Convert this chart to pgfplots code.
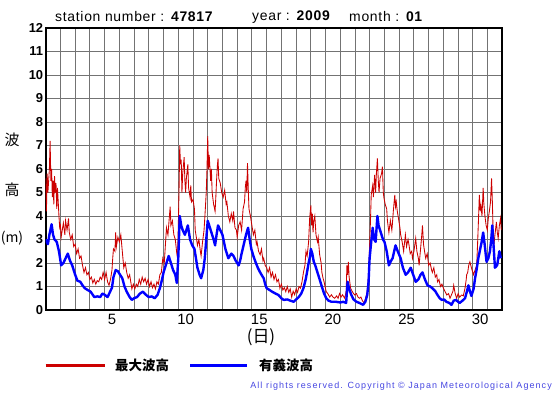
\documentclass[border=0pt]{standalone}
\usepackage{fontspec}
\setmainfont{Liberation Sans}
\newfontfamily\spaced[LetterSpace=5]{Liberation Sans}
\newfontfamily\cspaced[LetterSpace=12]{Liberation Sans}
\newfontfamily\jp{Noto Sans CJK JP}
\usepackage{pgfplots}
\pgfplotsset{compat=1.18}
\definecolor{wred}{RGB}{204,0,0}
\definecolor{wblue}{RGB}{0,0,255}
\definecolor{copy}{RGB}{70,70,225}
\begin{document}
\begin{tikzpicture}[x=1bp,y=1bp]
\useasboundingbox (0,0) rectangle (555,395);
\begin{axis}[
  at={(45.7bp,85bp)}, anchor=south west,
  scale only axis, width=456.6bp, height=282bp,
  xmin=0, xmax=31, ymin=0, ymax=12,
  xtick={4.5,9.5,14.5,19.5,24.5,29.5},
  xticklabels={5,10,15,20,25,30},
  minor xtick={1,...,30},
  ytick={0,...,12},
  xmajorgrids=false, xminorgrids=true, ymajorgrids=true,
  major grid style={line width=0.9bp, color=black!55},
  minor grid style={line width=0.9bp, color=black!55},
  axis line style={line width=1.8bp},
  major tick length=0pt, minor tick length=0pt,
  /pgf/number format/assume math mode=true,
  xticklabel style={font=\fontsize{15}{15}\selectfont, yshift=-1bp},
  yticklabel style={font=\bfseries\fontsize{13}{13}\selectfont, xshift=1bp},
  clip=true,
]
\addplot[wred, line width=0.85bp] coordinates {
(0,5.6) (0.05,4.2) (0.1,5.8) (0.15,5.0) (0.2,5.5) (0.25,6.0) (0.3,7.2) (0.35,5.5) (0.4,6.0) (0.45,4.8) (0.5,5.5) (0.55,4.5) (0.6,5.7) (0.65,5.0) (0.7,5.4) (0.75,4.3) (0.8,5.2) (0.85,4.6) (0.9,4.0) (0.95,3.5) (1.0,3.6) (1.05,3.1) (1.1,3.3) (1.2,3.7) (1.3,3.2) (1.35,3.8) (1.45,3.4) (1.55,3.9) (1.6,3.3) (1.7,3.0) (1.8,3.2) (1.9,2.7) (2.0,2.8) (2.1,2.4) (2.2,2.6) (2.3,2.2) (2.4,2.3) (2.5,1.9) (2.6,1.6) (2.7,1.8) (2.8,1.5) (2.9,1.6) (3.0,1.3) (3.1,1.4) (3.2,1.15) (3.3,1.3) (3.4,1.1) (3.5,1.25) (3.6,1.2) (3.7,1.4) (3.8,1.3) (3.9,1.6) (4.0,1.3) (4.1,1.6) (4.2,1.2) (4.3,1.05) (4.4,1.3) (4.5,1.7) (4.55,2.2) (4.6,2.6) (4.7,2.5) (4.75,3.3) (4.8,2.7) (4.9,3.1) (5.0,2.9) (5.1,3.2) (5.2,2.5) (5.3,1.8) (5.4,2.0) (5.5,1.6) (5.6,1.35) (5.7,1.5) (5.8,1.1) (5.85,0.9) (5.95,1.1) (6.05,0.9) (6.15,1.1) (6.25,1.0) (6.35,1.3) (6.45,1.1) (6.55,1.4) (6.65,1.2) (6.75,1.35) (6.85,1.1) (6.95,1.3) (7.05,1.0) (7.15,1.2) (7.25,0.95) (7.35,1.1) (7.45,0.9) (7.55,1.2) (7.65,1.1) (7.75,1.5) (7.85,1.6) (7.95,2.2) (8.05,2.0) (8.15,3.0) (8.2,3.5) (8.3,3.2) (8.4,4.0) (8.45,4.4) (8.5,3.6) (8.6,3.8) (8.7,3.2) (8.8,3.0) (8.9,2.4) (8.95,2.2) (9.0,3.5) (9.05,5.0) (9.1,7.0) (9.15,6.2) (9.2,6.4) (9.25,5.0) (9.3,5.8) (9.4,6.5) (9.45,5.5) (9.5,5.0) (9.55,5.6) (9.65,6.2) (9.7,5.2) (9.8,4.8) (9.85,5.3) (9.9,4.6) (10.0,4.7) (10.1,4.3) (10.15,3.4) (10.25,3.0) (10.3,2.75) (10.4,3.0) (10.5,2.5) (10.55,2.3) (10.65,2.9) (10.75,3.4) (10.8,3.9) (10.9,5.0) (10.95,6.0) (11.0,7.4) (11.05,6.0) (11.1,6.6) (11.2,5.5) (11.25,6.0) (11.3,5.0) (11.4,4.5) (11.5,4.2) (11.55,4.8) (11.6,5.5) (11.65,6.1) (11.7,6.45) (11.75,5.6) (11.85,5.4) (11.95,5.0) (12.05,4.8) (12.15,5.1) (12.25,4.5) (12.3,4.6) (12.4,4.0) (12.5,3.75) (12.6,4.1) (12.7,3.8) (12.75,4.2) (12.85,3.5) (12.95,3.4) (13.0,3.1) (13.1,3.6) (13.2,3.75) (13.3,3.4) (13.4,4.3) (13.5,4.6) (13.55,5.2) (13.6,5.5) (13.65,5.0) (13.7,6.25) (13.75,5.2) (13.8,4.3) (13.9,4.0) (13.96,3.75) (14.05,3.4) (14.1,3.2) (14.2,3.4) (14.3,2.8) (14.35,2.9) (14.45,2.5) (14.56,2.35) (14.65,2.6) (14.75,2.1) (14.8,2.2) (14.9,1.9) (15.0,1.8) (15.1,1.6) (15.2,1.8) (15.3,1.4) (15.4,1.6) (15.5,1.3) (15.6,1.5) (15.7,1.2) (15.8,1.3) (15.9,0.93) (16.0,1.1) (16.1,0.85) (16.2,0.95) (16.3,0.78) (16.4,1.0) (16.5,0.75) (16.6,0.9) (16.7,0.55) (16.8,0.8) (16.9,0.65) (17.0,0.9) (17.1,0.75) (17.2,1.0) (17.3,0.93) (17.4,1.2) (17.5,1.6) (17.6,1.9) (17.67,2.5) (17.75,2.3) (17.85,2.9) (17.92,3.9) (18.0,4.45) (18.05,3.6) (18.1,4.1) (18.15,3.3) (18.2,3.8) (18.27,4.0) (18.35,3.2) (18.45,2.9) (18.5,3.1) (18.6,2.35) (18.7,2.0) (18.75,1.6) (18.83,1.35) (18.9,1.2) (19.0,0.9) (19.05,0.78) (19.15,0.7) (19.28,0.55) (19.4,0.65) (19.5,0.55) (19.62,0.5) (19.75,0.6) (19.85,0.5) (19.95,0.7) (20.05,0.55) (20.15,0.65) (20.3,0.5) (20.4,0.8) (20.45,1.9) (20.5,1.5) (20.55,2.05) (20.6,1.4) (20.7,0.93) (20.8,0.8) (20.9,0.7) (20.98,0.64) (21.1,0.7) (21.2,0.55) (21.3,0.5) (21.4,0.55) (21.5,0.4) (21.6,0.3) (21.7,0.45) (21.83,0.78) (21.92,1.5) (21.99,2.75) (22.05,3.8) (22.1,4.9) (22.2,5.3) (22.25,4.8) (22.33,5.75) (22.4,5.0) (22.45,5.8) (22.52,6.45) (22.58,5.5) (22.63,5.0) (22.7,5.6) (22.8,5.8) (22.86,6.1) (22.92,5.0) (22.97,4.75) (23.05,4.5) (23.15,4.3) (23.2,3.8) (23.3,3.3) (23.4,3.8) (23.5,3.4) (23.53,3.6) (23.6,4.2) (23.7,4.9) (23.75,4.4) (23.8,4.6) (23.87,4.2) (23.95,3.9) (24.05,3.5) (24.1,3.2) (24.2,2.9) (24.3,2.5) (24.35,2.8) (24.42,3.2) (24.5,2.7) (24.6,3.0) (24.67,2.75) (24.75,2.4) (24.85,2.5) (24.9,2.2) (25.0,2.5) (25.12,3.05) (25.2,2.5) (25.3,2.2) (25.35,1.9) (25.45,2.6) (25.52,3.1) (25.58,3.6) (25.65,2.8) (25.72,2.5) (25.8,2.2) (25.9,2.4) (26.0,1.9) (26.1,2.0) (26.2,1.7) (26.25,1.6) (26.35,1.8) (26.45,1.4) (26.55,1.5) (26.6,1.2) (26.7,1.3) (26.8,1.0) (26.9,1.1) (27.0,0.93) (27.1,0.8) (27.23,0.64) (27.35,0.7) (27.45,0.5) (27.55,0.65) (27.65,0.8) (27.7,1.05) (27.8,0.7) (27.9,0.5) (28.0,0.7) (28.1,0.55) (28.24,0.64) (28.35,0.6) (28.47,0.93) (28.55,1.3) (28.58,1.5) (28.65,1.6) (28.72,1.9) (28.8,2.05) (28.9,1.8) (29.0,1.6) (29.04,1.5) (29.15,1.7) (29.26,1.9) (29.32,2.8) (29.38,3.8) (29.44,4.9) (29.5,4.2) (29.55,4.45) (29.62,4.0) (29.7,5.2) (29.75,4.5) (29.82,4.0) (29.9,3.6) (29.98,3.4) (30.05,3.9) (30.12,4.2) (30.2,4.6) (30.27,5.6) (30.33,4.5) (30.38,3.2) (30.43,2.75) (30.5,3.2) (30.6,3.75) (30.66,3.3) (30.72,3.05) (30.8,3.6) (30.88,3.9) (30.93,3.4)
};
\addplot[wblue, line width=2.4bp, line join=round] coordinates {
(0,3.0) (0.15,2.8) (0.25,3.2) (0.4,3.65) (0.5,3.2) (0.6,3.0) (0.75,2.9) (0.9,2.5) (1.05,1.9) (1.2,2.0) (1.35,2.2) (1.5,2.4) (1.65,2.1) (1.8,1.9) (2.0,1.5) (2.15,1.25) (2.35,1.2) (2.5,1.05) (2.65,0.93) (2.85,0.85) (3.05,0.78) (3.3,0.55) (3.5,0.58) (3.7,0.55) (3.85,0.7) (4.0,0.65) (4.2,0.55) (4.35,0.75) (4.5,0.95) (4.6,1.4) (4.75,1.7) (4.9,1.65) (5.05,1.5) (5.2,1.35) (5.35,1.0) (5.5,0.78) (5.7,0.55) (5.85,0.43) (6.0,0.5) (6.2,0.55) (6.4,0.7) (6.6,0.78) (6.8,0.65) (7.0,0.55) (7.2,0.58) (7.4,0.5) (7.6,0.65) (7.75,0.93) (7.9,1.3) (8.0,1.6) (8.2,2.0) (8.35,2.3) (8.5,2.0) (8.65,1.7) (8.8,1.5) (8.9,1.15) (9.0,2.2) (9.1,4.0) (9.2,3.6) (9.3,3.4) (9.45,3.2) (9.65,3.6) (9.8,3.0) (9.95,2.75) (10.1,2.6) (10.2,2.2) (10.3,1.8) (10.45,1.5) (10.55,1.35) (10.7,1.7) (10.8,2.2) (10.9,3.0) (11.0,3.8) (11.15,3.5) (11.25,3.3) (11.4,3.0) (11.5,2.75) (11.6,3.2) (11.7,3.6) (11.85,3.4) (12.0,3.2) (12.2,2.6) (12.4,2.2) (12.6,2.4) (12.75,2.3) (12.9,2.1) (13.1,1.9) (13.2,2.1) (13.3,2.4) (13.45,2.8) (13.6,3.2) (13.74,3.5) (13.85,3.0) (13.96,2.6) (14.1,2.3) (14.24,2.05) (14.4,1.8) (14.56,1.6) (14.7,1.45) (14.8,1.35) (14.9,1.1) (15.0,0.93) (15.2,0.85) (15.37,0.78) (15.6,0.7) (15.8,0.64) (16.0,0.5) (16.16,0.43) (16.4,0.45) (16.6,0.4) (16.84,0.35) (17.0,0.45) (17.18,0.55) (17.35,0.7) (17.5,0.93) (17.65,1.3) (17.74,1.6) (17.85,2.0) (17.95,2.3) (18.0,2.6) (18.1,2.4) (18.2,2.05) (18.3,1.9) (18.45,1.6) (18.6,1.3) (18.72,1.05) (18.9,0.7) (19.05,0.5) (19.2,0.4) (19.4,0.35) (19.7,0.35) (20.0,0.32) (20.2,0.35) (20.4,0.3) (20.45,0.8) (20.5,1.2) (20.6,0.9) (20.75,0.64) (20.9,0.45) (21.1,0.35) (21.3,0.3) (21.55,0.22) (21.7,0.35) (21.83,0.64) (21.92,1.2) (21.99,2.2) (22.1,2.9) (22.2,3.5) (22.3,3.0) (22.4,2.9) (22.52,4.0) (22.6,3.6) (22.75,3.3) (22.9,3.0) (23.0,2.9) (23.15,2.5) (23.3,1.9) (23.45,2.1) (23.55,2.2) (23.75,2.75) (23.9,2.5) (24.1,2.2) (24.25,1.8) (24.44,1.5) (24.6,1.6) (24.78,1.8) (24.95,1.5) (25.12,1.2) (25.3,1.3) (25.45,1.5) (25.58,1.6) (25.75,1.3) (25.92,1.05) (26.1,1.0) (26.25,0.93) (26.45,0.8) (26.6,0.64) (26.75,0.5) (26.89,0.43) (27.05,0.45) (27.2,0.35) (27.4,0.3) (27.55,0.22) (27.7,0.4) (27.85,0.43) (28.0,0.35) (28.1,0.3) (28.3,0.4) (28.47,0.5) (28.6,0.8) (28.7,1.05) (28.8,0.8) (28.9,0.6) (29.05,0.9) (29.15,1.35) (29.25,1.7) (29.37,2.2) (29.5,2.6) (29.6,2.9) (29.7,3.3) (29.8,2.8) (29.93,2.05) (30.05,2.2) (30.16,2.5) (30.25,3.0) (30.32,3.6) (30.42,2.6) (30.5,1.8) (30.65,1.9) (30.8,2.5) (30.9,2.2)
};
\end{axis}
% title
\node[anchor=west, inner sep=0] at (55,378) {\spaced\fontsize{14}{14}\selectfont station number : \textbf{47817}};
\node[anchor=west, inner sep=0] at (252,378) {\spaced\fontsize{14}{14}\selectfont year : \textbf{2009}};
\node[anchor=west, inner sep=0] at (349,378) {\spaced\fontsize{14}{14}\selectfont month : \textbf{01}};
% y label
\node[inner sep=0] at (12,255) {\jp\fontsize{15}{15}\selectfont 波};
\node[inner sep=0] at (12,205) {\jp\fontsize{15}{15}\selectfont 高};
\node[inner sep=0] at (12,157) {\jp\fontsize{14}{14}\selectfont (m)};
% x label
\node[inner sep=0] at (261,58) {\jp\fontsize{17}{17}\selectfont (日)};
% legend
\draw[wred, line width=3bp] (45.7,30) -- (105,30);
\node[anchor=west, inner sep=0] at (115,30) {\jp\bfseries\fontsize{13.5}{13.5}\selectfont 最大波高};
\draw[wblue, line width=3bp] (190,30) -- (247,30);
\node[anchor=west, inner sep=0] at (259,30) {\jp\bfseries\fontsize{13.5}{13.5}\selectfont 有義波高};
% copyright
\node[anchor=east, inner sep=0, text=copy] at (552,9) {\cspaced\fontsize{9}{9}\selectfont All rights reserved. Copyright \textcopyright{} Japan Meteorological Agency};
\end{tikzpicture}
\end{document}
